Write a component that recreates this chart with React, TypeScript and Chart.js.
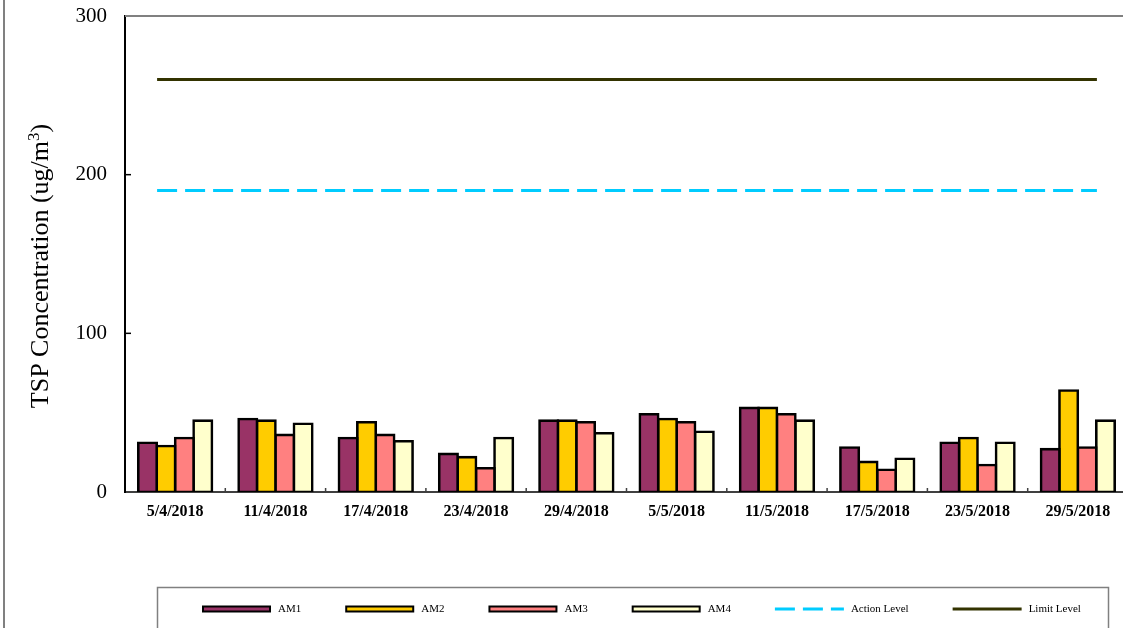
import { useEffect, useRef } from "react";
import { Chart, registerables } from "chart.js";

Chart.register(...registerables);

const categories = [
  "5/4/2018", "11/4/2018", "17/4/2018", "23/4/2018", "29/4/2018",
  "5/5/2018", "11/5/2018", "17/5/2018", "23/5/2018", "29/5/2018",
];
const am1 = [31, 46, 34, 24, 45, 49, 53, 28, 31, 27];
const am2 = [29, 45, 44, 22, 45, 46, 53, 19, 34, 64];
const am3 = [34, 36, 36, 15, 44, 44, 49, 14, 17, 28];
const am4 = [45, 43, 32, 34, 37, 38, 45, 21, 31, 45];
const actionLevel = 190;
const limitLevel = 260;
// start / end positions of the level lines, in category-index units
const levelLineX = [-0.18, 9.19];
const yMin = 0;
const yMax = 300;
const yStep = 100;
const seriesNames = ["AM1", "AM2", "AM3", "AM4", "Action Level", "Limit Level"];
const yTitleMain = "TSP Concentration (ug/m";
const yTitleSup = "3";
const yTitleEnd = ")";

const SERIF = '"Liberation Serif", "Times New Roman", serif';

const toPoints = (values: number[]) => values.map((y, i) => ({ x: i, y }));

const decorPlugin = {
  id: "decor",
  afterDraw(chart: any) {
    const ctx = chart.ctx as CanvasRenderingContext2D;
    const area = chart.chartArea;
    const xs = chart.scales.x;
    const ys = chart.scales.y;
    ctx.save();

    // outer frame line on the left
    ctx.strokeStyle = "#808080";
    ctx.lineWidth = 2;
    ctx.beginPath();
    ctx.moveTo(4, 0);
    ctx.lineTo(4, chart.height);
    ctx.stroke();

    // plot area top border
    ctx.beginPath();
    ctx.moveTo(area.left, area.top);
    ctx.lineTo(area.right + 2, area.top);
    ctx.stroke();

    // inward y ticks
    ctx.strokeStyle = "#000";
    ctx.lineWidth = 1.5;
    ys.ticks.forEach((t: any) => {
      if (t.value <= yMin || t.value >= yMax) return;
      const py = ys.getPixelForValue(t.value);
      ctx.beginPath();
      ctx.moveTo(area.left, py);
      ctx.lineTo(area.left + 6, py);
      ctx.stroke();
    });

    // inward x ticks at category boundaries
    ctx.strokeStyle = "#404040";
    for (let i = 1; i < categories.length; i++) {
      const px = xs.getPixelForValue(i - 0.5);
      ctx.beginPath();
      ctx.moveTo(px, area.bottom);
      ctx.lineTo(px, area.bottom - 4);
      ctx.stroke();
    }

    // y axis title (rotated, with superscript)
    ctx.fillStyle = "#000";
    const mainFont = `26px ${SERIF}`;
    const supFont = `17px ${SERIF}`;
    ctx.font = mainFont;
    const w1 = ctx.measureText(yTitleMain).width;
    const w3 = ctx.measureText(yTitleEnd).width;
    ctx.font = supFont;
    const w2 = ctx.measureText(yTitleSup).width;
    const total = w1 + w2 + w3;
    const cy = (area.top + area.bottom) / 2 + 12;
    ctx.translate(48, cy + total / 2);
    ctx.rotate(-Math.PI / 2);
    ctx.textBaseline = "alphabetic";
    ctx.textAlign = "left";
    ctx.font = mainFont;
    ctx.fillText(yTitleMain, 0, 0);
    ctx.font = supFont;
    ctx.fillText(yTitleSup, w1, -9);
    ctx.font = mainFont;
    ctx.fillText(yTitleEnd, w1 + w2, 0);
    ctx.setTransform(1, 0, 0, 1, 0, 0);
    ctx.restore();

    // legend
    ctx.save();
    ctx.strokeStyle = "#808080";
    ctx.lineWidth = 1.5;
    ctx.strokeRect(157.5, 587.5, 951, 80);
    ctx.font = `11px ${SERIF}`;
    ctx.textBaseline = "middle";
    ctx.textAlign = "left";
    let lx = 202;
    const ly = 609;
    chart.data.datasets.forEach((ds: any) => {
      if (ds.type === "line") {
        ctx.strokeStyle = ds.borderColor;
        ctx.lineWidth = 3;
        ctx.setLineDash(ds.borderDash || []);
        ctx.beginPath();
        ctx.moveTo(lx, ly);
        ctx.lineTo(lx + 69, ly);
        ctx.stroke();
        ctx.setLineDash([]);
      } else {
        ctx.fillStyle = "#000";
        ctx.fillRect(lx, ly - 3.5, 69, 7);
        ctx.fillStyle = ds.backgroundColor;
        ctx.fillRect(lx + 2, ly - 1.5, 65, 3);
      }
      ctx.fillStyle = "#000";
      ctx.fillText(ds.label, lx + 76, ly + 0.5);
      lx += 76 + ctx.measureText(ds.label).width + 44;
    });
    ctx.restore();
  },
};

export default function App() {
  const ref = useRef<HTMLCanvasElement | null>(null);

  useEffect(() => {
    if (!ref.current) return;
    const barCommon = {
      type: "bar" as const,
      borderColor: "#000000",
      borderWidth: 2.6,
      borderSkipped: false,
      inflateAmount: 1.3,
      categoryPercentage: 0.735,
      barPercentage: 1,
    };
    const chart = new Chart(ref.current, {
      type: "bar",
      data: {
        datasets: [
          { ...barCommon, label: seriesNames[0], data: toPoints(am1), backgroundColor: "#993366" },
          { ...barCommon, label: seriesNames[1], data: toPoints(am2), backgroundColor: "#FFCC00" },
          { ...barCommon, label: seriesNames[2], data: toPoints(am3), backgroundColor: "#FF8080" },
          { ...barCommon, label: seriesNames[3], data: toPoints(am4), backgroundColor: "#FFFFCC" },
          {
            type: "line",
            label: seriesNames[4],
            data: levelLineX.map((x) => ({ x, y: actionLevel })),
            borderColor: "#00CCFF",
            borderWidth: 3,
            borderDash: [20, 8],
            pointRadius: 0,
            fill: false,
          } as any,
          {
            type: "line",
            label: seriesNames[5],
            data: levelLineX.map((x) => ({ x, y: limitLevel })),
            borderColor: "#333300",
            borderWidth: 3,
            pointRadius: 0,
            fill: false,
          } as any,
        ],
      },
      options: {
        responsive: false,
        animation: false,
        devicePixelRatio: 1,
        layout: { padding: { top: 16, left: 0, right: 2, bottom: 0 } },
        plugins: {
          legend: { display: false },
          tooltip: { enabled: false },
          title: { display: false },
        },
        scales: {
          x: {
            type: "linear",
            offset: false,
            min: -0.5,
            max: categories.length - 0.5,
            grid: { display: false, drawTicks: false, offset: false },
            border: { display: true, color: "#404040", width: 2 },
            afterBuildTicks: (scale: any) => {
              scale.ticks = categories.map((_, i) => ({ value: i }));
            },
            ticks: {
              color: "#000",
              font: { family: SERIF, size: 16, weight: "bold" },
              padding: 10,
              maxRotation: 0,
              autoSkip: false,
              callback: (v: any) => categories[v] ?? "",
            },
            afterFit: (scale: any) => {
              scale.height = 136;
              scale.paddingLeft = 0;
              scale.paddingRight = 0;
            },
          },
          y: {
            min: yMin,
            max: yMax,
            grid: { display: false, drawTicks: false },
            border: { display: true, color: "#000", width: 2 },
            ticks: {
              stepSize: yStep,
              color: "#000",
              font: { family: SERIF, size: 21 },
              padding: 18,
            },
            afterFit: (scale: any) => {
              scale.width = 125;
              scale.paddingTop = 0;
              scale.paddingBottom = 0;
            },
          },
        },
      } as any,
      plugins: [decorPlugin],
    });
    return () => chart.destroy();
  }, []);

  return (
    <div
      style={{
        position: "absolute",
        left: 0,
        top: 0,
        width: 1123,
        height: 628,
        overflow: "hidden",
        background: "#fff",
      }}
    >
      <canvas ref={ref} width={1130} height={628} style={{ display: "block" }} />
    </div>
  );
}
